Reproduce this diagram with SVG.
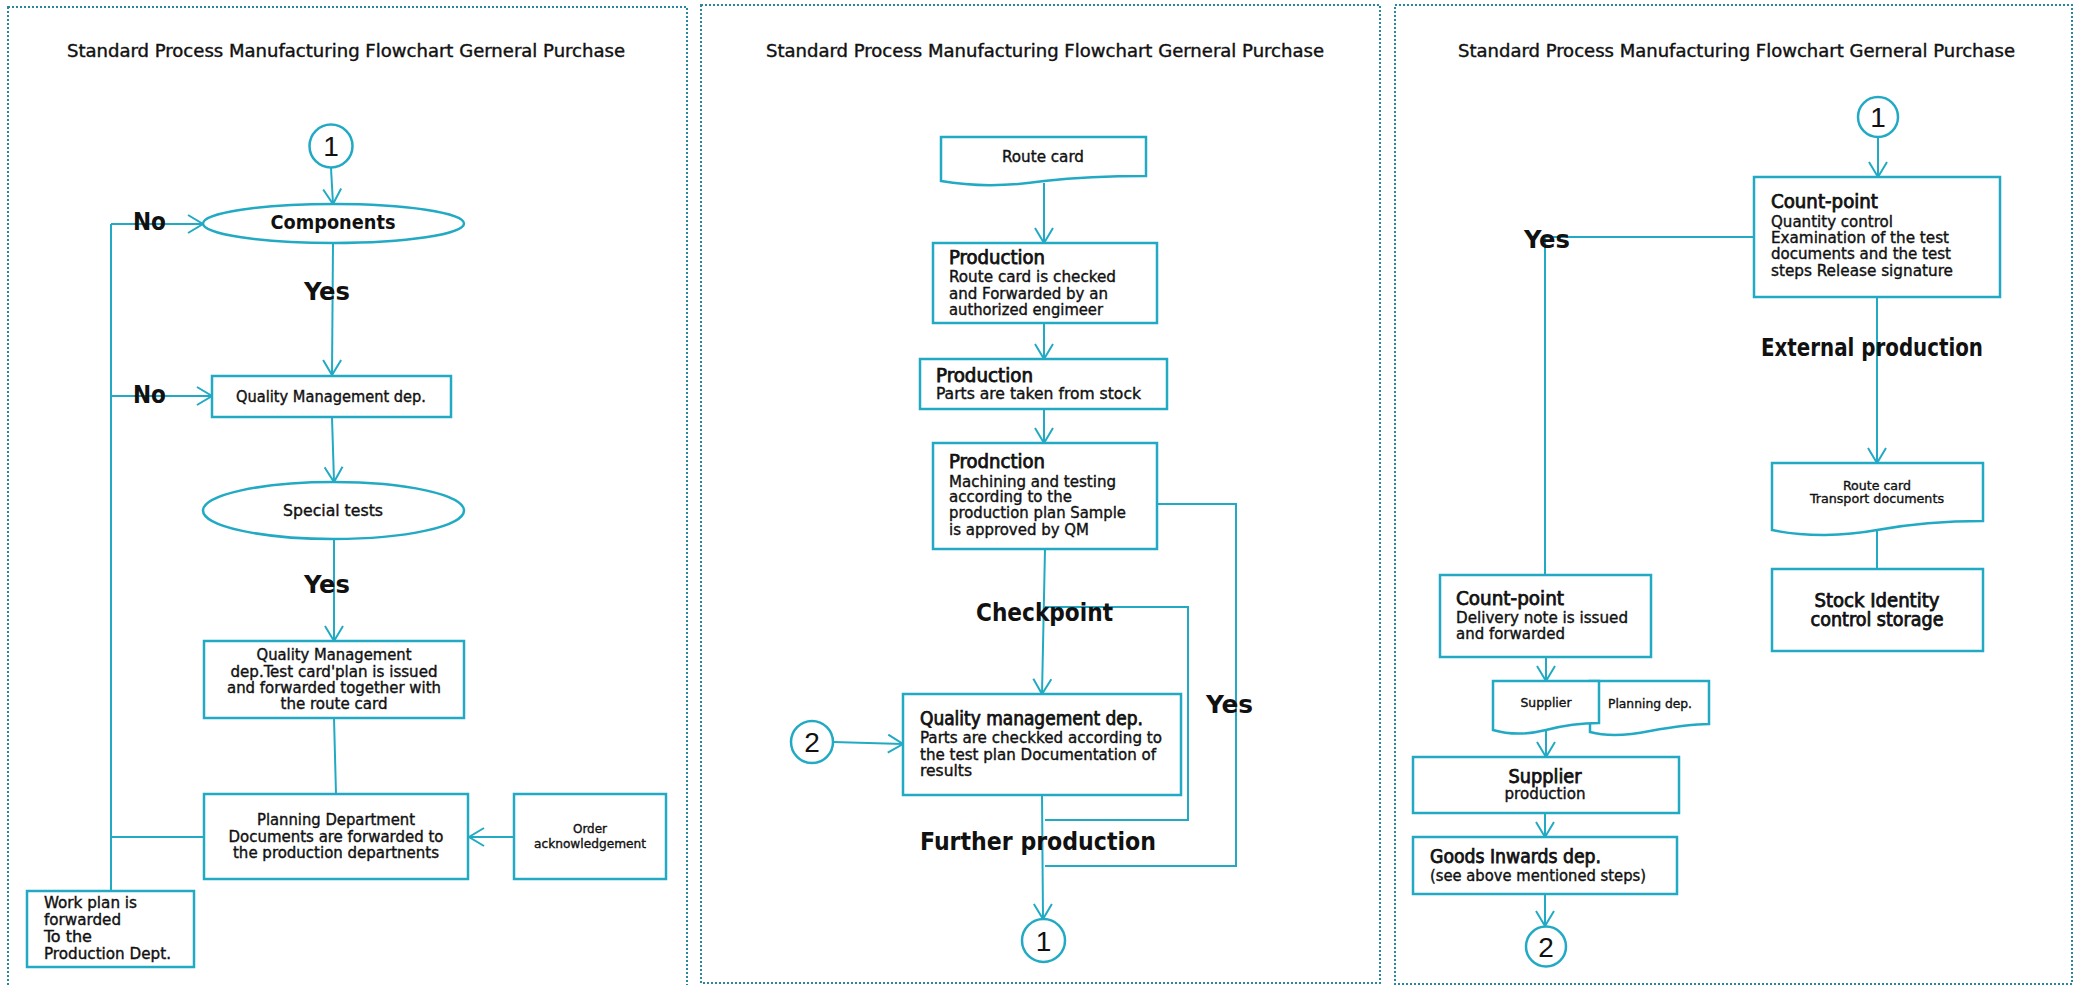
<svg xmlns="http://www.w3.org/2000/svg" width="2076" height="985" viewBox="0 0 2076 985">
<style>
.panel{fill:none;stroke:#27899a;stroke-width:2;stroke-dasharray:2 2}
.bx{fill:#fff;stroke:#22aac4;stroke-width:2.5}
.ln{fill:none;stroke:#22aac4;stroke-width:2}
.t{font-family:"DejaVu Sans Condensed","DejaVu Sans","Liberation Sans",sans-serif;font-stretch:condensed;fill:#111;stroke:#111;stroke-width:0.35}
.ttl{font-size:17px}
.b{font-size:15px}
.s{font-size:13px}
.h{font-size:19px;font-weight:bold;stroke-width:0}
.hn{font-size:19px;stroke-width:0.75}
.big{font-size:25px;font-weight:bold;stroke-width:0}
.num{font-family:"Liberation Sans",sans-serif;font-size:28px;fill:#111;text-anchor:middle}
.c{text-anchor:middle}
</style>
<defs>
<marker id="arr" markerUnits="userSpaceOnUse" viewBox="-16 -10 18 20" markerWidth="18" markerHeight="20" refX="0" refY="0" orient="auto">
<path d="M-15,-9 L0,0 L-15,9" fill="none" stroke="#22aac4" stroke-width="2"/>
</marker>
</defs>
<rect class="panel" x="8" y="7" width="679" height="990"/>
<rect class="panel" x="701" y="5" width="679" height="978"/>
<rect class="panel" x="1395" y="5" width="677" height="979"/>
<text class="t ttl" x="67" y="57" textLength="558" lengthAdjust="spacingAndGlyphs">Standard Process Manufacturing  Flowchart Gerneral Purchase</text>
<text class="t ttl" x="766" y="57" textLength="558" lengthAdjust="spacingAndGlyphs">Standard Process Manufacturing  Flowchart Gerneral Purchase</text>
<text class="t ttl" x="1458" y="57" textLength="557" lengthAdjust="spacingAndGlyphs">Standard Process Manufacturing  Flowchart Gerneral Purchase</text>
<g id="connectors">
<line class="ln" x1="331" y1="168" x2="333" y2="204" marker-end="url(#arr)"/>
<line class="ln" x1="333" y1="243" x2="332" y2="375" marker-end="url(#arr)"/>
<line class="ln" x1="332" y1="417" x2="334" y2="482" marker-end="url(#arr)"/>
<line class="ln" x1="334" y1="539" x2="334" y2="641" marker-end="url(#arr)"/>
<line class="ln" x1="334" y1="718" x2="336" y2="794"/>
<line class="ln" x1="514" y1="837" x2="469" y2="837" marker-end="url(#arr)"/>
<polyline class="ln" points="204,837 111,837"/>
<line class="ln" x1="111" y1="224" x2="111" y2="891"/>
<line class="ln" x1="111" y1="224" x2="203" y2="224" marker-end="url(#arr)"/>
<line class="ln" x1="111" y1="396" x2="212" y2="396" marker-end="url(#arr)"/>
<line class="ln" x1="1044" y1="183" x2="1044" y2="243" marker-end="url(#arr)"/>
<line class="ln" x1="1044" y1="323" x2="1044" y2="359" marker-end="url(#arr)"/>
<line class="ln" x1="1044" y1="409" x2="1044" y2="443" marker-end="url(#arr)"/>
<line class="ln" x1="1045" y1="549" x2="1042" y2="694" marker-end="url(#arr)"/>
<polyline class="ln" points="1045,607 1188,607 1188,820 1045,820"/>
<polyline class="ln" points="1157,504 1236,504 1236,866 1045,866"/>
<line class="ln" x1="833" y1="742" x2="903" y2="744" marker-end="url(#arr)"/>
<line class="ln" x1="1042" y1="795" x2="1043" y2="919" marker-end="url(#arr)"/>
<line class="ln" x1="1878" y1="137" x2="1878" y2="177" marker-end="url(#arr)"/>
<polyline class="ln" points="1754,237 1545,237 1545,575"/>
<line class="ln" x1="1877" y1="297" x2="1877" y2="463" marker-end="url(#arr)"/>
<line class="ln" x1="1877" y1="530" x2="1877" y2="569"/>
<line class="ln" x1="1546" y1="657" x2="1546" y2="681" marker-end="url(#arr)"/>
<line class="ln" x1="1546" y1="731" x2="1546" y2="757" marker-end="url(#arr)"/>
<line class="ln" x1="1545" y1="813" x2="1545" y2="837" marker-end="url(#arr)"/>
<line class="ln" x1="1545" y1="894" x2="1545" y2="926" marker-end="url(#arr)"/>
</g>
<g id="p1-start"><ellipse class="bx" cx="331" cy="146" rx="21.5" ry="21.5"/><text class="num" x="331" y="156">1</text></g>
<g id="p1-components"><ellipse class="bx" cx="333.5" cy="223.5" rx="130.5" ry="19.5"/><text class="t h c" x="333" y="229" textLength="125" lengthAdjust="spacingAndGlyphs">Components</text></g>
<g id="p1-qm"><rect class="bx" x="212" y="376" width="239" height="41"/><text class="t b c" x="331" y="402" textLength="190" lengthAdjust="spacingAndGlyphs">Quality Management dep.</text></g>
<g id="p1-special"><ellipse class="bx" cx="333.5" cy="510.5" rx="130.5" ry="28.5"/><text class="t b c" x="333" y="516" textLength="100" lengthAdjust="spacingAndGlyphs">Special tests</text></g>
<g id="p1-qm2"><rect class="bx" x="204" y="641" width="260" height="77"/>
<text class="t b c" x="334" y="660" textLength="155" lengthAdjust="spacingAndGlyphs">Quality Management</text>
<text class="t b c" x="334" y="677" textLength="207" lengthAdjust="spacingAndGlyphs">dep.Test card'plan is issued</text>
<text class="t b c" x="334" y="693" textLength="214" lengthAdjust="spacingAndGlyphs">and forwarded together with</text>
<text class="t b c" x="334" y="709" textLength="107" lengthAdjust="spacingAndGlyphs">the route card</text></g>
<g id="p1-planning"><rect class="bx" x="204" y="794" width="264" height="85"/>
<text class="t b c" x="336" y="825" textLength="158" lengthAdjust="spacingAndGlyphs">Planning Department</text>
<text class="t b c" x="336" y="842" textLength="215" lengthAdjust="spacingAndGlyphs">Documents are forwarded to</text>
<text class="t b c" x="336" y="858" textLength="206" lengthAdjust="spacingAndGlyphs">the production departnents</text></g>
<g id="p1-order"><rect class="bx" x="514" y="794" width="152" height="85"/>
<text class="t s c" x="590" y="833" textLength="34" lengthAdjust="spacingAndGlyphs">Order</text>
<text class="t s c" x="590" y="848" textLength="112" lengthAdjust="spacingAndGlyphs">acknowledgement</text></g>
<g id="p1-workplan"><rect class="bx" x="27" y="891" width="167" height="76"/>
<text class="t b" x="44" y="908" textLength="93" lengthAdjust="spacingAndGlyphs">Work plan is</text>
<text class="t b" x="44" y="925" textLength="77" lengthAdjust="spacingAndGlyphs">forwarded</text>
<text class="t b" x="44" y="942" textLength="48" lengthAdjust="spacingAndGlyphs">To the</text>
<text class="t b" x="44" y="959" textLength="127" lengthAdjust="spacingAndGlyphs">Production Dept.</text></g>
<g id="p1-labels">
<text class="t big" x="304" y="300" textLength="46" lengthAdjust="spacingAndGlyphs">Yes</text>
<text class="t big" x="304" y="593" textLength="46" lengthAdjust="spacingAndGlyphs">Yes</text>
<text class="t big" x="133" y="230" textLength="33" lengthAdjust="spacingAndGlyphs">No</text>
<text class="t big" x="133" y="403" textLength="33" lengthAdjust="spacingAndGlyphs">No</text>
</g>
<g id="p2-routecard"><path class="bx" d="M941,137 H1146 V176 C1115,176 1080,177 1044,181 C1010,186 975,187 941,181 Z"/>
<text class="t b c" x="1043" y="162" textLength="82" lengthAdjust="spacingAndGlyphs">Route card</text></g>
<g id="p2-prod1"><rect class="bx" x="933" y="243" width="224" height="80"/>
<text class="t hn" x="949" y="264" textLength="96" lengthAdjust="spacingAndGlyphs">Production</text>
<text class="t b" x="949" y="282" textLength="167" lengthAdjust="spacingAndGlyphs">Route card is checked</text>
<text class="t b" x="949" y="299" textLength="159" lengthAdjust="spacingAndGlyphs">and Forwarded by an</text>
<text class="t b" x="949" y="315" textLength="154" lengthAdjust="spacingAndGlyphs">authorized engimeer</text></g>
<g id="p2-prod2"><rect class="bx" x="920" y="359" width="247" height="50"/>
<text class="t hn" x="936" y="382" textLength="97" lengthAdjust="spacingAndGlyphs">Production</text>
<text class="t b" x="936" y="399" textLength="205" lengthAdjust="spacingAndGlyphs">Parts are taken from stock</text></g>
<g id="p2-prod3"><rect class="bx" x="933" y="443" width="224" height="106"/>
<text class="t hn" x="949" y="468" textLength="96" lengthAdjust="spacingAndGlyphs">Prodnction</text>
<text class="t b" x="949" y="487" textLength="167" lengthAdjust="spacingAndGlyphs">Machining and testing</text>
<text class="t b" x="949" y="502" textLength="123" lengthAdjust="spacingAndGlyphs">according to the</text>
<text class="t b" x="949" y="518" textLength="177" lengthAdjust="spacingAndGlyphs">production plan Sample</text>
<text class="t b" x="949" y="535" textLength="140" lengthAdjust="spacingAndGlyphs">is approved by QM</text></g>
<g id="p2-qm"><rect class="bx" x="903" y="694" width="278" height="101"/>
<text class="t hn" x="920" y="725" textLength="223" lengthAdjust="spacingAndGlyphs">Quality management dep.</text>
<text class="t b" x="920" y="743" textLength="242" lengthAdjust="spacingAndGlyphs">Parts are checkked according to</text>
<text class="t b" x="920" y="760" textLength="236" lengthAdjust="spacingAndGlyphs">the test plan Documentation of</text>
<text class="t b" x="920" y="776" textLength="52" lengthAdjust="spacingAndGlyphs">results</text></g>
<g id="p2-c2"><ellipse class="bx" cx="812" cy="742" rx="21" ry="21"/><text class="num" x="812" y="752">2</text></g>
<g id="p2-c1"><ellipse class="bx" cx="1043.5" cy="940.5" rx="21.5" ry="21.5"/><text class="num" x="1043.5" y="950.5">1</text></g>
<g id="p2-labels">
<text class="t big" x="976" y="621" textLength="137" lengthAdjust="spacingAndGlyphs">Checkpoint</text>
<text class="t big" x="1206" y="713" textLength="47" lengthAdjust="spacingAndGlyphs">Yes</text>
<text class="t big" x="920" y="850" textLength="236" lengthAdjust="spacingAndGlyphs">Further production</text>
</g>
<g id="p3-c1"><ellipse class="bx" cx="1878" cy="117" rx="20" ry="20"/><text class="num" x="1878" y="127">1</text></g>
<g id="p3-count1"><rect class="bx" x="1754" y="177" width="246" height="120"/>
<text class="t hn" x="1771" y="208" textLength="107" lengthAdjust="spacingAndGlyphs">Count-point</text>
<text class="t b" x="1771" y="227" textLength="122" lengthAdjust="spacingAndGlyphs">Quantity control</text>
<text class="t b" x="1771" y="243" textLength="178" lengthAdjust="spacingAndGlyphs">Examination of the test</text>
<text class="t b" x="1771" y="259" textLength="180" lengthAdjust="spacingAndGlyphs">documents and the test</text>
<text class="t b" x="1771" y="276" textLength="182" lengthAdjust="spacingAndGlyphs">steps Release signature</text></g>
<g id="p3-routecard"><path class="bx" d="M1772,463 H1983 V521 C1950,521 1915,523 1877,530 C1845,536 1805,537 1772,530 Z"/>
<text class="t s c" x="1877" y="490" textLength="68" lengthAdjust="spacingAndGlyphs">Route card</text>
<text class="t s c" x="1877" y="503" textLength="134" lengthAdjust="spacingAndGlyphs">Transport documents</text></g>
<g id="p3-stock"><rect class="bx" x="1772" y="569" width="211" height="82"/>
<text class="t hn c" x="1877" y="607" textLength="125" lengthAdjust="spacingAndGlyphs">Stock Identity</text>
<text class="t hn c" x="1877" y="626" textLength="133" lengthAdjust="spacingAndGlyphs">control storage</text></g>
<g id="p3-count2"><rect class="bx" x="1440" y="575" width="211" height="82"/>
<text class="t hn" x="1456" y="605" textLength="108" lengthAdjust="spacingAndGlyphs">Count-point</text>
<text class="t b" x="1456" y="623" textLength="172" lengthAdjust="spacingAndGlyphs">Delivery note is issued</text>
<text class="t b" x="1456" y="639" textLength="109" lengthAdjust="spacingAndGlyphs">and forwarded</text></g>
<g id="p3-planningdoc"><path class="bx" d="M1590,681 H1709 V724 C1690,724 1672,727 1650,731 C1625,736 1605,736 1590,732 Z"/>
<text class="t s" x="1608" y="708" textLength="84" lengthAdjust="spacingAndGlyphs">Planning dep.</text></g>
<g id="p3-supplierdoc"><path class="bx" d="M1493,681 H1599 V723 C1580,723 1565,725 1546,730 C1530,734 1510,735 1493,730 Z"/>
<text class="t s c" x="1546" y="707" textLength="51" lengthAdjust="spacingAndGlyphs">Supplier</text></g>
<g id="p3-supprod"><rect class="bx" x="1413" y="757" width="266" height="56"/>
<text class="t hn c" x="1545" y="783" textLength="73" lengthAdjust="spacingAndGlyphs">Supplier</text>
<text class="t b c" x="1545" y="799" textLength="81" lengthAdjust="spacingAndGlyphs">production</text></g>
<g id="p3-goods"><rect class="bx" x="1413" y="837" width="264" height="57"/>
<text class="t hn" x="1430" y="863" textLength="171" lengthAdjust="spacingAndGlyphs">Goods Inwards dep.</text>
<text class="t b" x="1430" y="881" textLength="216" lengthAdjust="spacingAndGlyphs">(see above mentioned steps)</text></g>
<g id="p3-c2"><ellipse class="bx" cx="1546" cy="946.5" rx="20" ry="20"/><text class="num" x="1546" y="956.5">2</text></g>
<g id="p3-labels">
<text class="t big" x="1524" y="248" textLength="46" lengthAdjust="spacingAndGlyphs">Yes</text>
<text class="t big" x="1761" y="356" textLength="222" lengthAdjust="spacingAndGlyphs">External production</text>
</g>
</svg>
